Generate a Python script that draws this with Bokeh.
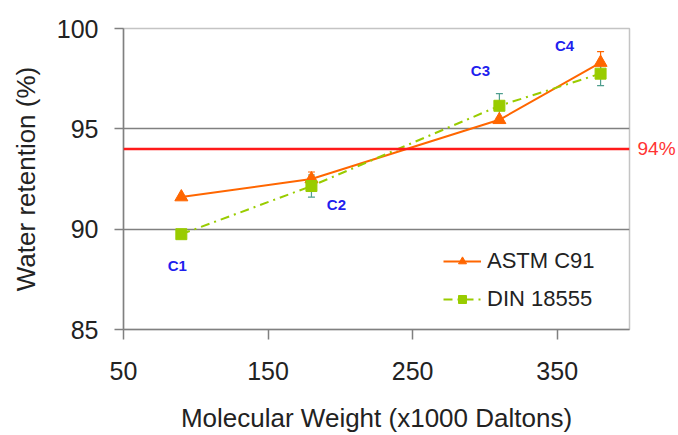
from bokeh.plotting import figure
from bokeh.models import (ColumnDataSource, FixedTicker, Span, Whisker, LinearAxis,
                          TeeHead, Legend, LegendItem)
from bokeh.core.properties import value
from bokeh.embed import file_html
from bokeh.resources import INLINE

# ---- data ----
mol_weight = [90, 180, 310, 380]
astm_c91 = [91.6, 92.5, 95.45, 98.3]
astm_err = [0.0, 0.35, 0.0, 0.55]
din_18555 = [89.75, 92.15, 96.15, 97.75]
din_err = [0.0, 0.55, 0.6, 0.6]
sample_names = ["C1", "C2", "C3", "C4"]
threshold = 94
x_ticks = [50, 150, 250, 350]
y_ticks = [85, 90, 95, 100]

FONT = "Liberation Sans"
ORANGE = "#ff6600"
GREEN = "#99cc00"
TEAL = "#4f9e8e"
GRID = "#808080"

p = figure(width=678, height=435, output_backend="svg", toolbar_location=None,
           x_range=(50, 400), y_range=(85, 100),
           min_border_left=123, min_border_right=46, min_border_top=28,
           min_border_bottom=103)
p.background_fill_color = "white"
p.outline_line_color = "#c4c4c4"
p.outline_line_width = 1.5

# axes
for ax in (p.xaxis[0], p.yaxis[0]):
    ax.axis_line_color = GRID
    ax.axis_line_width = 1.5
    ax.major_tick_line_color = GRID
    ax.major_tick_line_width = 1.5
    ax.major_tick_in = 0
    ax.minor_tick_line_color = None
    ax.major_label_text_font = FONT
    ax.major_label_text_font_size = "25px"
    ax.major_label_text_color = "#222222"
    ax.axis_label_text_font = FONT
    ax.axis_label_text_font_size = "26px"
    ax.axis_label_text_font_style = "normal"
    ax.axis_label_text_color = "#222222"

p.xaxis.ticker = FixedTicker(ticks=x_ticks)
p.yaxis.ticker = FixedTicker(ticks=y_ticks)
p.xaxis.major_tick_out = 10
p.yaxis.major_tick_out = 9
p.xaxis.major_label_standoff = 22
p.yaxis.major_label_standoff = 16
p.xaxis.axis_label = "Molecular Weight (x1000 Daltons)"
p.yaxis.axis_label = "Water retention (%)"
p.xaxis.axis_label_standoff = 20
p.yaxis.axis_label_standoff = 13

p.xgrid.grid_line_color = None
p.ygrid.ticker = FixedTicker(ticks=[t for t in y_ticks if 85 < t < 100])
p.ygrid.grid_line_color = GRID
p.ygrid.grid_line_width = 1.5

# error bars
def err_source(xs, ys, es):
    rows = [(x, y, e) for x, y, e in zip(xs, ys, es) if e > 0]
    return ColumnDataSource(dict(x=[r[0] for r in rows],
                                 upper=[r[1] + r[2] for r in rows],
                                 lower=[r[1] - r[2] for r in rows]))

for ys, es, col in ((astm_c91, astm_err, ORANGE), (din_18555, din_err, TEAL)):
    w = Whisker(source=err_source(mol_weight, ys, es), base="x", upper="upper",
                lower="lower", dimension="height", line_color=col, line_width=1.2,
                upper_head=TeeHead(size=7, line_color=col, line_width=1.2),
                lower_head=TeeHead(size=7, line_color=col, line_width=1.2))
    p.add_layout(w)

# series
r1l = p.line(mol_weight, astm_c91, line_color=ORANGE, line_width=2)
r1m = p.scatter(mol_weight, astm_c91, marker="triangle", size=13,
                fill_color=ORANGE, line_color=ORANGE)
r2l = p.line(mol_weight, din_18555, line_color=GREEN, line_width=2,
             line_dash="9 5 2 5")
r2m = p.scatter(mol_weight, din_18555, marker="square", size=11,
                fill_color=GREEN, line_color=GREEN)

# sample labels, offset in pixels from the DIN points
p.text(mol_weight, din_18555, text=sample_names,
       x_offset=[-4, 25, -19, -36], y_offset=[31, 18, -35, -28],
       text_font=value(FONT), text_font_size="15px", text_font_style="bold",
       text_color="#1f1fee", text_align="center", text_baseline="middle")

# threshold line and its label (on a right-hand axis)
p.add_layout(Span(location=threshold, dimension="width", line_color="#ff1a1a",
                  line_width=2.5))
thr_axis = LinearAxis(ticker=FixedTicker(ticks=[threshold]),
                      major_label_overrides={threshold: f"{threshold}%"},
                      axis_line_color=None, major_tick_line_color=None,
                      minor_tick_line_color=None, major_tick_in=0, major_tick_out=0,
                      major_label_standoff=8, major_label_text_font=FONT,
                      major_label_text_font_size="19px",
                      major_label_text_color="#ff3333")
p.add_layout(thr_axis, "right")

legend = Legend(items=[LegendItem(label="ASTM C91", renderers=[r1l, r1m]),
                       LegendItem(label="DIN 18555", renderers=[r2l, r2m])],
                location=(320, 17), padding=0, spacing=12, glyph_width=38,
                label_standoff=6, label_text_font=FONT,
                label_text_font_size="22px", label_text_color="#222222",
                border_line_alpha=0, background_fill_alpha=0)
p.add_layout(legend)

open("out.html", "w").write(file_html(p, INLINE))
